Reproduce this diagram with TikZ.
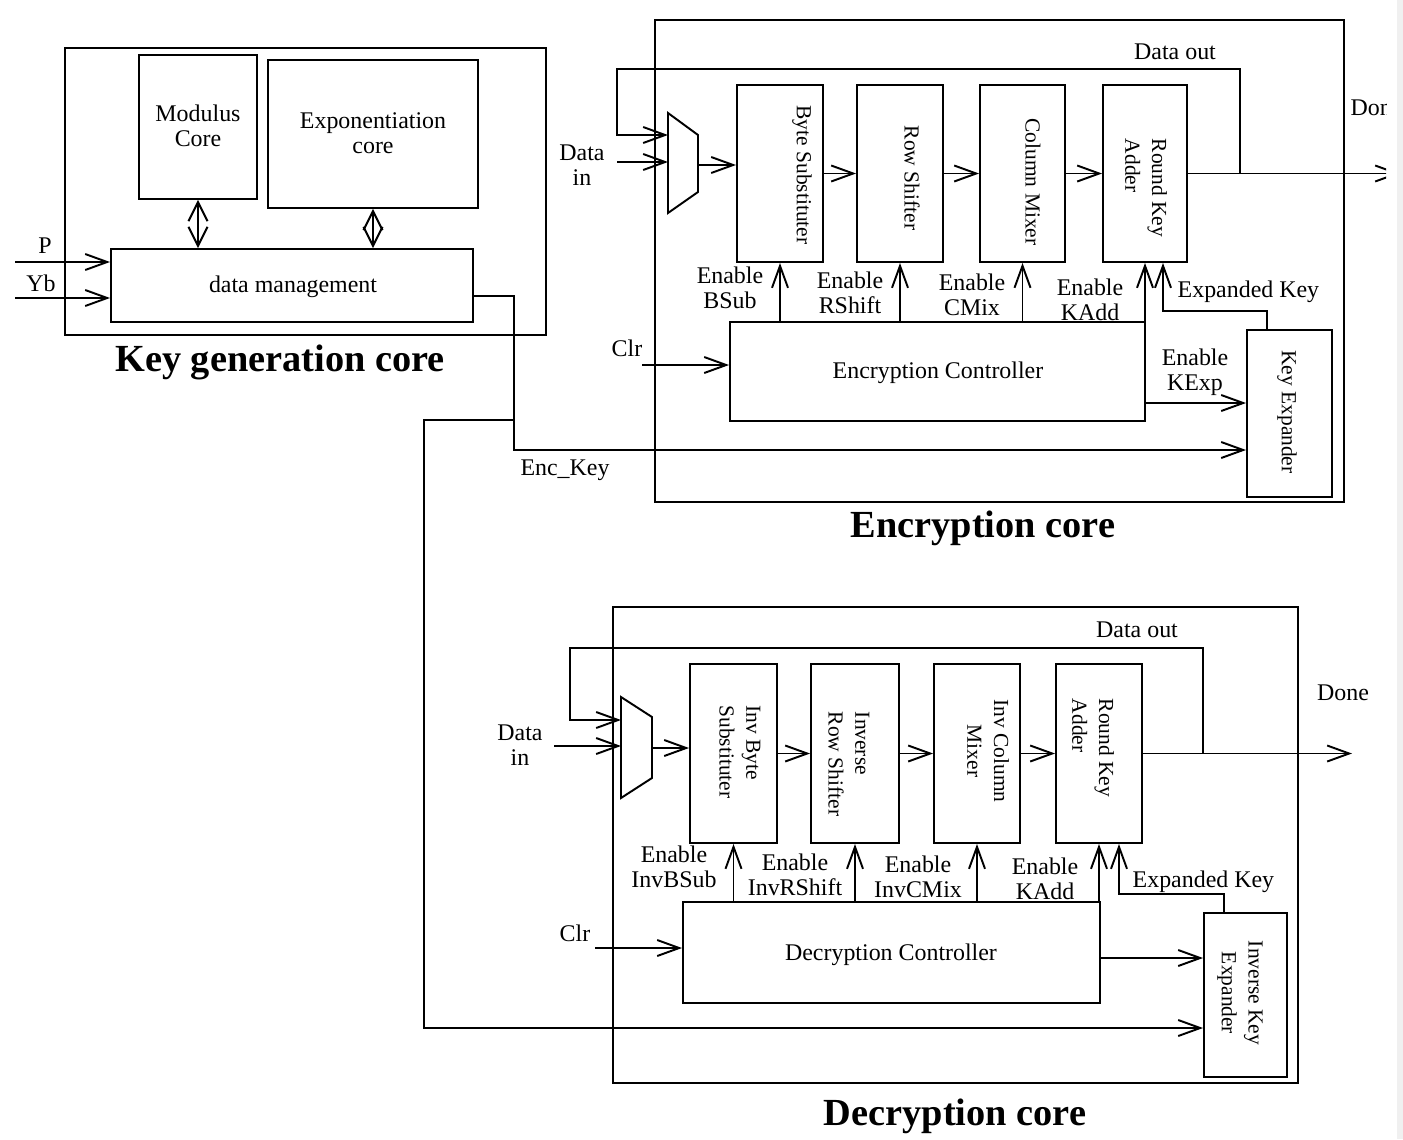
\documentclass[tikz,border=0pt]{standalone}
\usepackage{fontspec}
\setmainfont{Liberation Serif}
\usetikzlibrary{arrows.meta,fit,calc}

\begin{document}
\begin{tikzpicture}[x=0.01cm,y=-0.01cm,
  wire/.style={line width=0.55pt},
  arr/.style={wire,-{Straight Barb[length=2.2mm,width=1.6mm,line width=0.55pt]}},
  darr/.style={wire,{Straight Barb[length=1.9mm,width=1.9mm,line width=0.55pt]}-{Straight Barb[length=1.9mm,width=1.9mm,line width=0.55pt]}},
  box/.style={draw,line width=0.55pt,inner sep=0pt},
  lbl/.style={font=\fontsize{6.8}{7.2}\selectfont,inner sep=0pt,align=center},
  vlbl/.style={font=\fontsize{6.1}{7.6}\selectfont,inner sep=0pt,rotate=-90,align=center},
  vlbll/.style={vlbl,align=left},
  ttl/.style={font=\fontsize{10.9}{13}\selectfont\bfseries,inner sep=0pt},
]
\useasboundingbox (0,0) rectangle (1403,1139);

\begin{scope}
\clip (0,0) rectangle (1386,1139);

% ---------------- Key generation core ----------------
\node[box, fit={(65,48) (546,335)}] (kgc) {};
\node[box, fit={(139,55) (257,199)}] (mod) {};
\node[lbl] (modT) at (198,126) {Modulus\\Core};
\node[box, fit={(268,60) (478,208)}] (expo) {};
\node[lbl] (expoT) at (373,133) {Exponentiation\\core};
\node[box, fit={(111,249) (473,322)}] (dm) {};
\node[lbl] (dmT) at (293,287) {data management};
\draw[darr] (mod.south) -- (mod.south |- dm.north);
\draw[darr] (expo.south) -- (expo.south |- dm.north);
\coordinate (pin) at (15,262);
\coordinate (ybin) at (15,298);
\draw[arr] (pin) -- (pin -| dm.west);
\draw[arr] (ybin) -- (ybin -| dm.west);
\node[lbl] (pT) at (45,246) {P};
\node[lbl] (ybT) at (41,283) {Yb};
\node[ttl] (kgcT) at (280,362) {Key generation core};

% ---------------- Encryption core ----------------
\node[box, fit={(655,20) (1344,502)}] (enc) {};
\node[box, fit={(737,85) (823,262)}] (bsub) {};
\node[vlbl] (bsubT) at (802,175) {Byte Substituter};
\node[box, fit={(857,85) (943,262)}] (rsh) {};
\node[vlbl] (rshT) at (912,178) {Row Shifter};
\node[box, fit={(980,85) (1065,262)}] (cmix) {};
\node[vlbl] (cmixT) at (1033,182) {Column Mixer};
\node[box, fit={(1103,85) (1187,262)}] (rka) {};
\node[vlbll] (rkaT) at (1146,188) {Round Key\\Adder};

% input multiplexer
\draw[wire] (668,113) -- (698,135) -- (698,192) -- (668,213) -- cycle;
\coordinate (muxA) at (668,135);
\coordinate (muxB) at (668,162);
\coordinate (muxE) at (698,165);
\draw[arr] (muxE) -- (muxE -| bsub.west);
\coordinate (dinS) at (617,162);
\draw[arr] (dinS) -- (muxB);
\node[lbl] (dinT) at (582,165) {Data\\in};

\draw[arr] (bsub.east) -- (rsh.west);
\draw[arr] (rsh.east) -- (cmix.west);
\draw[arr] (cmix.east) -- (rka.west);

% output and feedback
\coordinate (eJ) at (1240,173.5);
\coordinate (eOut) at (1400,173.5);
\draw[arr] (rka.east) -- (eOut);
\draw[arr] (eJ) |- (617,69) |- (muxA);
\node[lbl] (edoT) at (1175,52) {Data out};
\node[lbl,anchor=west] (edoneT) at (1350,108) {Done};

% controller and key expander
\node[box, fit={(730,322) (1145,421)}] (ectl) {};
\node[lbl] (ectlT) at (938,373) {Encryption Controller};
\node[box, fit={(1247,330) (1332,497)}] (kexp) {};
\node[vlbl] (kexpT) at (1287,412) {Key Expander};

\draw[arr] (bsub.south |- ectl.north) -- (bsub.south);
\draw[arr] (rsh.south |- ectl.north) -- (rsh.south);
\draw[arr] (cmix.south |- ectl.north) -- (cmix.south);
\draw[arr] (rka.south |- ectl.north) -- (rka.south);
\draw[arr] ($(kexp.north west)+(21,0)$) -- ++(0,-18) -| ($(rka.south)+(18,0)$);
\node[lbl] (ebsT) at (730,288) {Enable\\BSub};
\node[lbl] (ersT) at (850,293) {Enable\\RShift};
\node[lbl] (ecmT) at (972,295) {Enable\\CMix};
\node[lbl] (ekaT) at (1090,300) {Enable\\KAdd};
\node[lbl,anchor=west] (eekT) at (1177,292) {Expanded Key};

\coordinate (kx) at (1145,403);
\draw[arr] (kx) -- (kx -| kexp.west);
\node[lbl] (ekxT) at (1195,372) {Enable\\KExp};

\coordinate (eclr) at (642,365);
\draw[arr] (eclr) -- (eclr -| ectl.west);
\node[lbl] (eclrT) at (627,348) {Clr};

% key from the key generation core
\coordinate (k0) at (473,296);
\coordinate (kbend) at (514,450);
\draw[arr] (k0) -| (kbend) -- (kbend -| kexp.west);
\node[lbl] (ekeyT) at (565,470) {Enc\_Key};
\coordinate (kbr) at (514,420);
\coordinate (kdn) at (424,1028);

\node[ttl] (encT) at (983,528) {Encryption core};

% ---------------- Decryption core ----------------
\node[box, fit={(613,607) (1298,1083)}] (dec) {};
\node[box, fit={(690,664) (777,843)}] (ibs) {};
\node[vlbll] (ibsT) at (740,752) {Inv Byte\\Substituter};
\node[box, fit={(811,664) (899,843)}] (irs) {};
\node[vlbll] (irsT) at (849,764) {Inverse\\Row Shifter};
\node[box, fit={(934,664) (1020,843)}] (icm) {};
\node[vlbl] (icmT) at (988,751) {Inv Column\\Mixer};
\node[box, fit={(1056,664) (1142,843)}] (rkb) {};
\node[vlbll] (rkbT) at (1093,748) {Round Key\\Adder};

\draw[wire] (621,697) -- (652,717) -- (652,778) -- (621,798) -- cycle;
\coordinate (mxA) at (621,720);
\coordinate (mxB) at (621,746);
\coordinate (mxE) at (652,748);
\draw[arr] (mxE) -- (mxE -| ibs.west);
\coordinate (ddin) at (554,746);
\draw[arr] (ddin) -- (mxB);
\node[lbl] (ddinT) at (520,745) {Data\\in};

\draw[arr] (ibs.east) -- (irs.west);
\draw[arr] (irs.east) -- (icm.west);
\draw[arr] (icm.east) -- (rkb.west);

\coordinate (dJ) at (1203,753.5);
\coordinate (dOut) at (1352,753.5);
\draw[arr] (rkb.east) -- (dOut);
\draw[arr] (dJ) |- (570,648) |- (mxA);
\node[lbl] (ddoT) at (1137,630) {Data out};
\node[lbl] (ddoneT) at (1343,693) {Done};

\node[box, fit={(683,902) (1100,1003)}] (dctl) {};
\node[lbl] (dctlT) at (891,955) {Decryption Controller};
\node[box, fit={(1204,913) (1287,1077)}] (ike) {};
\node[vlbl] (ikeT) at (1240,993) {Inverse Key\\Expander};

\draw[arr] (ibs.south |- dctl.north) -- (ibs.south);
\draw[arr] (irs.south |- dctl.north) -- (irs.south);
\draw[arr] (icm.south |- dctl.north) -- (icm.south);
\draw[arr] (rkb.south |- dctl.north) -- (rkb.south);
\draw[arr] ($(ike.north west)+(21,0)$) -- ++(0,-18) -| ($(rkb.south)+(20,0)$);
\node[lbl] (dbsT) at (674,867) {Enable\\InvBSub};
\node[lbl] (drsT) at (795,875) {Enable\\InvRShift};
\node[lbl] (dcmT) at (918,877) {Enable\\InvCMix};
\node[lbl] (dkaT) at (1045,879) {Enable\\KAdd};
\node[lbl,anchor=west] (dekT) at (1132,882) {Expanded Key};

\coordinate (dx) at (1100,958);
\draw[arr] (dx) -- (dx -| ike.west);
\coordinate (dclr) at (595,948);
\draw[arr] (dclr) -- (dclr -| dctl.west);
\node[lbl] (dclrT) at (575,933) {Clr};

% key branch down to the inverse key expander
\draw[arr] (kbr) -| (kdn) -- (kdn -| ike.west);

\node[ttl] (decT) at (955,1116) {Decryption core};
\end{scope}

\fill[gray!12] (1397,0) rectangle (1403,1139);
\end{tikzpicture}
\end{document}
